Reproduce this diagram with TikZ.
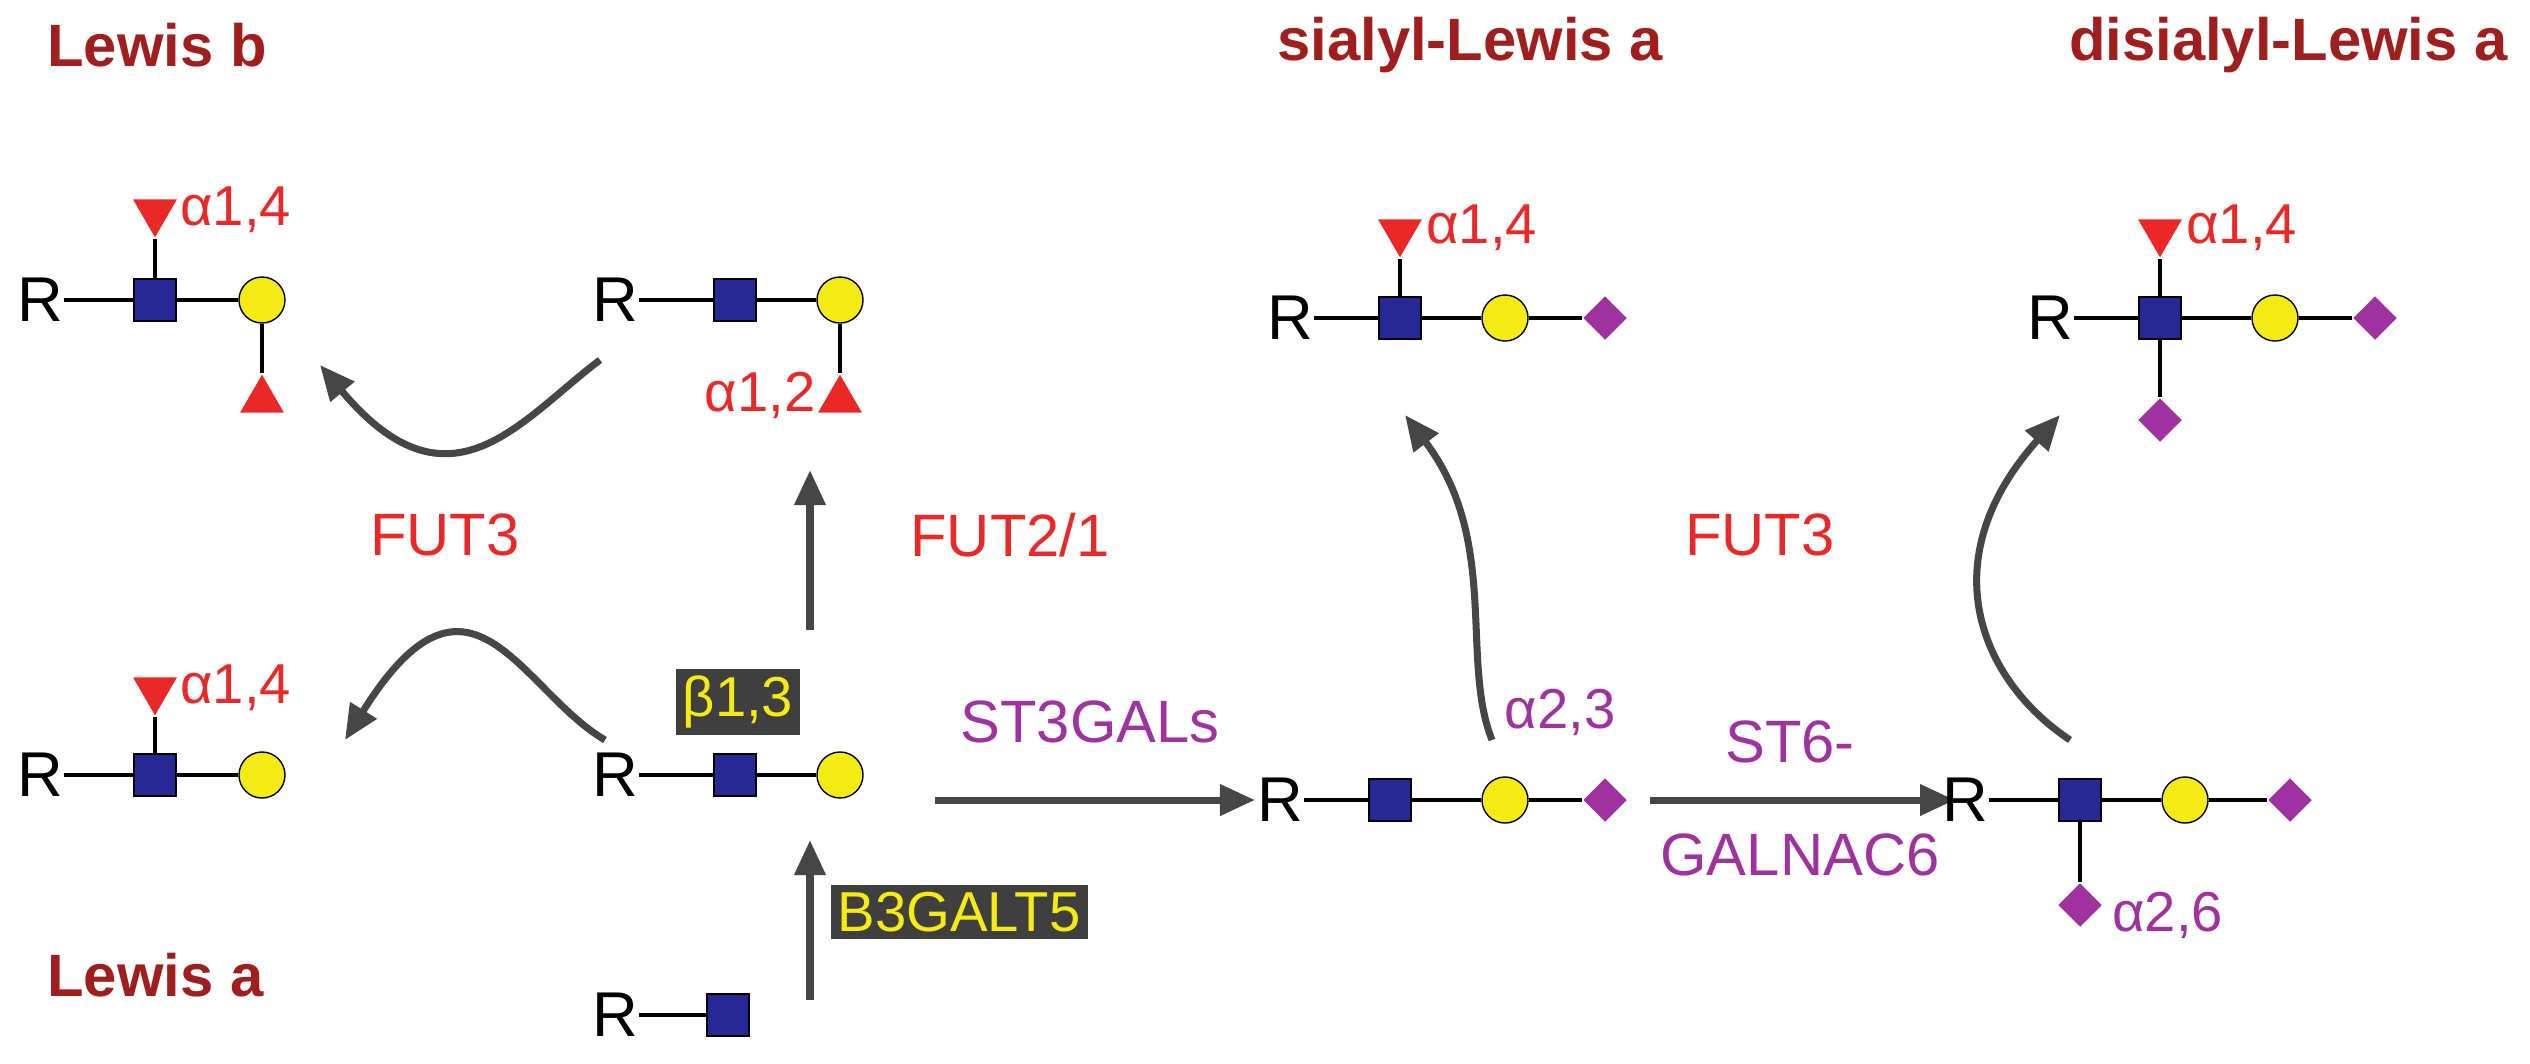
\documentclass[tikz,border=0pt]{standalone}
\usepackage{fontspec}
\setmainfont{Liberation Sans}
\usetikzlibrary{shapes.geometric,arrows.meta}
\definecolor{dred}{RGB}{160,30,30}
\definecolor{fred}{RGB}{235,40,40}
\definecolor{purp}{RGB}{160,50,160}
\definecolor{sqb}{RGB}{40,40,150}
\definecolor{cyel}{RGB}{245,235,20}
\definecolor{darr}{RGB}{70,70,70}
\tikzset{
 title/.style={text=dred,font=\fontsize{17}{20}\selectfont\bfseries},
 rr/.style={font=\fontsize{18}{20}\selectfont,inner sep=0pt},
 sq/.style={draw=black,fill=sqb,minimum size=0.42cm,inner sep=0pt,line width=0.4pt},
 ci/.style={circle,draw=black,fill=cyel,minimum size=0.46cm,inner sep=0pt,line width=0.4pt},
 dia/.style={diamond,fill=purp,minimum size=0.44cm,inner sep=0pt},
 tdn/.style={isosceles triangle,shape border rotate=-90,isosceles triangle apex angle=60,fill=fred,minimum size=0.38cm,inner sep=0pt},
 tup/.style={isosceles triangle,shape border rotate=90,isosceles triangle apex angle=60,fill=fred,minimum size=0.38cm,inner sep=0pt},
 lk/.style={line width=1.2pt},
 ared/.style={text=fred,font=\fontsize{16}{18}\selectfont},
 apur/.style={text=purp,font=\fontsize{16}{18}\selectfont},
 enz/.style={text=fred,font=\fontsize{17}{19}\selectfont},
 enzp/.style={text=purp,font=\fontsize{17}{19}\selectfont},
 boxl/.style={fill=darr!90!black,text=cyel,font=\fontsize{16}{18}\selectfont,inner sep=2pt},
 arr/.style={darr,line width=2pt,-{Triangle[length=0.35cm,width=0.3cm]}},
}
\begin{document}
\begin{tikzpicture}[x=0.01cm,y=-0.01cm]
\useasboundingbox (0,0) rectangle (2530,1063);
% titles
\node[title,anchor=west] (t1) at (35,45) {Lewis b};
\node[title] (t2) at (1470,45) {sialyl-Lewis a};
\node[title,anchor=east] (t3) at (2520,45) {disialyl-Lewis a};
\node[title,anchor=west] (t4) at (35,975) {Lewis a};

% Lewis b
\node[rr] (br) at (40,300) {R};
\node[sq] (bs) at (155,300) {};
\node[ci] (bc) at (262,300) {};
\node[tdn] (bt) at (155,212) {};
\node[tup] (bt2) at (262,400) {};
\draw[lk] (br) -- (bs) -- (bc) -- (bt2); \draw[lk] (bs) -- (bt);
\node[ared,anchor=west] (ba) at (168,210) {α1,4};

% top middle
\node[rr] (mr) at (615,300) {R};
\node[sq] (ms) at (735,300) {};
\node[ci] (mc) at (840,300) {};
\node[tup] (mt) at (840,400) {};
\draw[lk] (mr) -- (ms) -- (mc) -- (mt);
\node[ared] (ma) at (760,395) {α1,2};

% Lewis a
\node[rr] (ar) at (40,775) {R};
\node[sq] (as) at (155,775) {};
\node[ci] (ac) at (262,775) {};
\node[tdn] (at1) at (155,690) {};
\draw[lk] (ar) -- (as) -- (ac); \draw[lk] (as) -- (at1);
\node[ared,anchor=west] (aa) at (168,688) {α1,4};

% center
\node[rr] (cr) at (615,775) {R};
\node[sq] (cs) at (735,775) {};
\node[ci] (cc) at (840,775) {};
\draw[lk] (cr) -- (cs) -- (cc);
\node[boxl] (cb) at (738,702) {β1,3};

% bottom
\node[rr] (dr) at (615,1015) {R};
\node[sq] (ds) at (728,1015) {};
\draw[lk] (dr) -- (ds);
\node[boxl,anchor=west] (db) at (830,912) {B3GALT5};
\coordinate (u1) at (810,1000); \coordinate (u2) at (810,840);
\draw[arr] (u1) -- (u2);
\coordinate (u3) at (810,630); \coordinate (u4) at (810,470);
\draw[arr] (u3) -- (u4);
\node[enz] (f21) at (1010,535) {FUT2/1};
\node[enz] (f3a) at (445,535) {FUT3};

% curved arrows left
\coordinate (p1) at (600,360); \coordinate (p2) at (320,365);
\draw[arr] (p1) .. controls (520,420) and (450,520) .. (p2);
\coordinate (p3) at (605,740); \coordinate (p4) at (345,740);
\draw[arr] (p3) .. controls (520,690) and (470,540) .. (p4);

% ST3GALs
\coordinate (s1) at (935,800); \coordinate (s2) at (1255,800);
\draw[arr] (s1) -- (s2);
\node[enzp] (st3) at (1090,722) {ST3GALs};

% sialyl bottom
\node[rr] (er) at (1280,800) {R};
\node[sq] (es) at (1390,800) {};
\node[ci] (ec) at (1505,800) {};
\node[dia] (ed) at (1605,800) {};
\draw[lk] (er) -- (es) -- (ec) -- (ed);
\node[apur] (ea) at (1560,712) {α2,3};

% sialyl top
\node[rr] (fr) at (1290,318) {R};
\node[sq] (fs) at (1400,318) {};
\node[ci] (fc) at (1505,318) {};
\node[dia] (fd) at (1605,318) {};
\node[tdn] (ft) at (1400,232) {};
\draw[lk] (fr) -- (fs) -- (fc) -- (fd); \draw[lk] (fs) -- (ft);
\node[ared,anchor=west] (fa) at (1414,228) {α1,4};

% FUT3 right arrows
\node[enz] (f3b) at (1760,535) {FUT3};
\coordinate (q1) at (1492,740); \coordinate (q2) at (1405,415);
\draw[arr] (q1) .. controls (1460,660) and (1500,540) .. (q2);
\coordinate (q3) at (2070,740); \coordinate (q4) at (2060,415);
\draw[arr] (q3) .. controls (1980,680) and (1930,560) .. (q4);

% ST6
\coordinate (s3) at (1650,800); \coordinate (s4) at (1955,800);
\draw[arr] (s3) -- (s4);
\node[enzp] (st6a) at (1790,742) {ST6-};
\node[enzp] (st6b) at (1800,855) {GALNAC6};

% disialyl bottom
\node[rr] (gr) at (1965,800) {R};
\node[sq] (gs) at (2080,800) {};
\node[ci] (gc) at (2185,800) {};
\node[dia] (gd) at (2290,800) {};
\node[dia] (gd2) at (2080,905) {};
\draw[lk] (gr) -- (gs) -- (gc) -- (gd); \draw[lk] (gs) -- (gd2);
\node[apur,anchor=west] (ga) at (2100,915) {α2,6};

% disialyl top
\node[rr] (hr) at (2050,318) {R};
\node[sq] (hs) at (2160,318) {};
\node[ci] (hc) at (2275,318) {};
\node[dia] (hd) at (2375,318) {};
\node[tdn] (ht) at (2160,232) {};
\node[dia] (hd2) at (2160,420) {};
\draw[lk] (hr) -- (hs) -- (hc) -- (hd); \draw[lk] (ht) -- (hs) -- (hd2);
\node[ared,anchor=west] (ha) at (2174,228) {α1,4};
\end{tikzpicture}
\end{document}
